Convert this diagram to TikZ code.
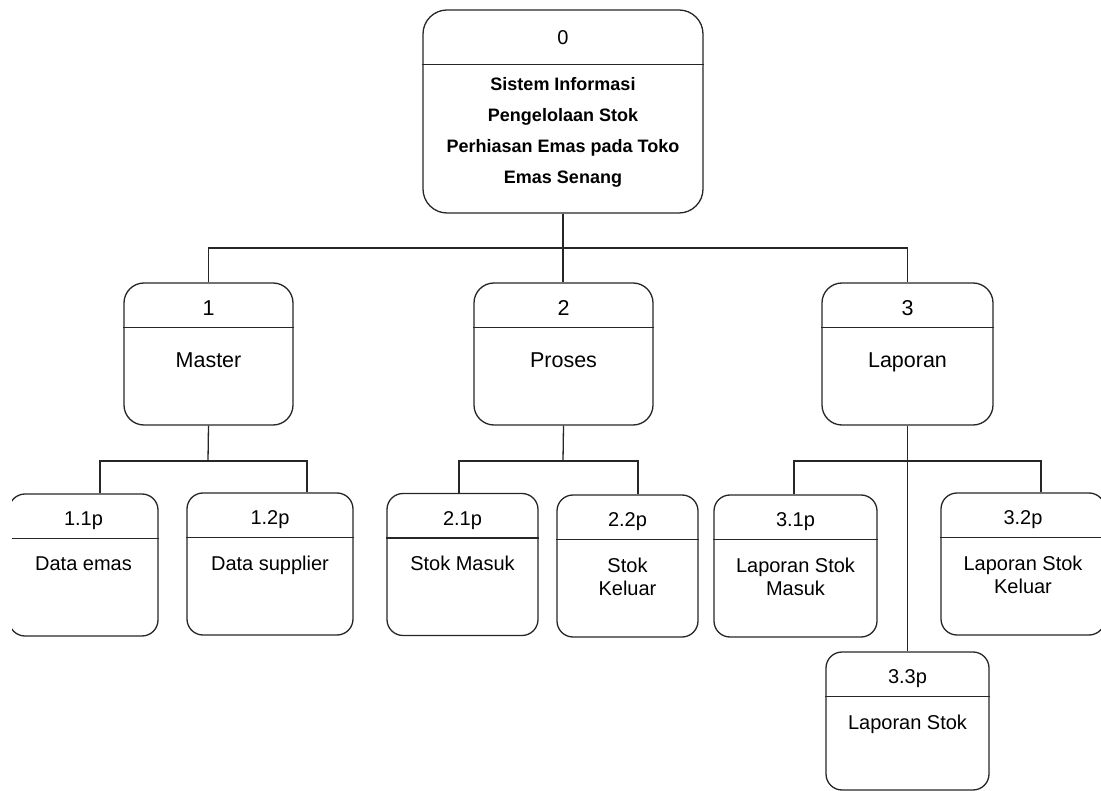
\documentclass[tikz,border=0pt]{standalone}
\usepackage{fontspec}
\setmainfont{Liberation Sans}
\usetikzlibrary{calc}
\begin{document}
\begin{tikzpicture}[x=1pt,y=-1pt,
  box/.style={draw=black!85, line width=1.3pt, inner sep=0pt},
  bigbox/.style={box, rounded corners=24pt, minimum width=280pt, minimum height=203pt},
  midbox/.style={box, rounded corners=20pt, minimum height=142pt},
  smallbox/.style={box, rounded corners=16pt, minimum height=142pt},
  divider/.style={draw=black!85, line width=1.3pt},
  conn/.style={draw=black!85, line width=1.3pt},
  numtxt/.style={font=\fontsize{20}{24}\selectfont, inner sep=0pt, text height=15pt, text depth=4pt},
  midtxt/.style={font=\fontsize{21.5}{25}\selectfont, inner sep=0pt, text height=16pt, text depth=4.5pt},
  labtxt/.style={font=\fontsize{20}{23}\selectfont, align=center, inner sep=0pt, anchor=north},
  boldtxt/.style={font=\bfseries\fontsize{18}{31}\selectfont, align=center, inner sep=0pt, anchor=north}
]
\useasboundingbox (0,0) rectangle (1101,791);
\clip (12,0) rectangle (1101,791);

% level 0
\node[bigbox] (b0) at (563,111.5) {};
\draw[divider] ($(b0.north west)+(0,55)$) -- ($(b0.north east)+(0,55)$);
\node[numtxt] (t0) at ($(b0.north)+(0,30)$) {0};
\node[boldtxt] (l0) at ($(b0.north)+(0,68)$) {Sistem Informasi\\Pengelolaan Stok\\Perhiasan Emas pada Toko\\Emas Senang};

% level 1
\node[midbox, minimum width=169pt] (b1) at (208.5,354) {};
\node[midbox, minimum width=179pt] (b2) at (563.5,354) {};
\node[midbox, minimum width=171pt] (b3) at (907.5,354) {};
\foreach \b/\n/\t in {b1/1/Master, b2/2/Proses, b3/3/Laporan}{
  \draw[divider] ($(\b.north west)+(0,45)$) -- ($(\b.north east)+(0,45)$);
  \node[midtxt] (\b n) at ($(\b.north)+(0,27)$) {\n};
  \node[midtxt] (\b t) at ($(\b.north)+(0,79)$) {\t};
}

% level 2
\node[smallbox, minimum width=149pt] (b11) at (83.5,565) {};
\node[smallbox, minimum width=166pt] (b12) at (270,564) {};
\node[smallbox, minimum width=151pt] (b21) at (462.5,564.5) {};
\node[smallbox, minimum width=141pt] (b22) at (627.5,566) {};
\node[smallbox, minimum width=163pt] (b31) at (795.5,566) {};
\node[smallbox, minimum width=164pt] (b32) at (1023,564) {};
\node[smallbox, minimum width=163pt, minimum height=138pt] (b33) at (907.5,721) {};
\foreach \b/\n/\t in {b11/1.1p/Data emas, b12/1.2p/Data supplier, b21/2.1p/Stok Masuk, b22/2.2p/Stok\\Keluar, b31/3.1p/Laporan Stok\\Masuk, b32/3.2p/Laporan Stok\\Keluar, b33/3.3p/Laporan Stok}{
  \draw[divider] ($(\b.north west)+(0,45)$) -- ($(\b.north east)+(0,45)$);
  \node[numtxt] (\b n) at ($(\b.north)+(0,27)$) {\n};
  \node[labtxt] (\b t) at ($(\b.north)+(0,63)$) {\t};
}

% connectors level 0 -> 1
\coordinate (j0) at (563,248);
\draw[conn] (b0.south) -- (j0);
\draw[conn] (b1.north) |- (j0) -| (b3.north);
\draw[conn] (j0) -- (j0 |- b2.north);

% connectors level 1 -> 2
\coordinate (j1) at (208,461);
\coordinate (d11) at (100,0);
\coordinate (d12) at (307,0);
\draw[conn] (b1.south) -- (j1);
\draw[conn] (d11 |- b11.north) |- (j1) -| (d12 |- b12.north);

\coordinate (j2) at (563,461);
\coordinate (d21) at (459,0);
\coordinate (d22) at (638,0);
\draw[conn] (b2.south) -- (j2);
\draw[conn] (d21 |- b21.north) |- (j2) -| (d22 |- b22.north);

\coordinate (j3) at (907,461);
\coordinate (d31) at (794,0);
\coordinate (d32) at (1041,0);
\draw[conn] (b3.south) -- (b33.north);
\draw[conn] (d31 |- b31.north) |- (j3) -| (d32 |- b32.north);
\end{tikzpicture}
\end{document}
